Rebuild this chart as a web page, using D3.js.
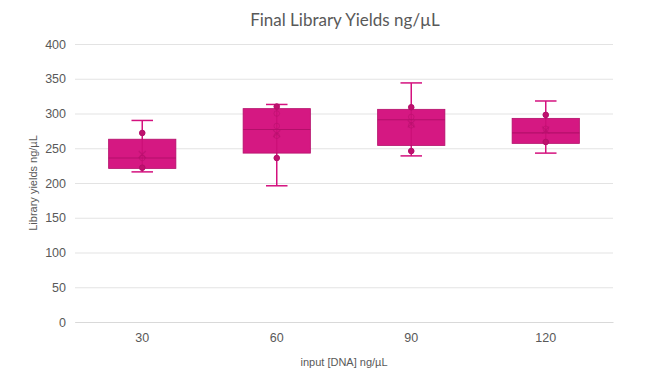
<!DOCTYPE html>
<html>
<head>
<meta charset="utf-8">
<script src="https://cdn.jsdelivr.net/npm/d3@7"></script>
<style>
  body { margin: 0; background: #fff; }
  text { font-family: "Liberation Sans", Arial, sans-serif; fill: #595959; }
</style>
</head>
<body>
<div class="chart"></div>
<script>
// data
var categories = ["30", "60", "90", "120"];
var whiskerLow = [216, 196, 239, 243];
var q1 = [221, 243, 254, 257];
var median = [236, 277, 291, 272];
var q3 = [263, 307, 306, 293];
var whiskerHigh = [290, 313, 344, 318];
var means = [241, 271, 285, 276];
var points = [
    [272, 236, 222],
    [310, 300, 282, 268, 236],
    [309, 295, 283, 246],
    [298, 278, 259]
];
var yTicks = [0, 50, 100, 150, 200, 250, 300, 350, 400];

var svgWidth = 650;
var svgHeight = 388;

var margin = { top: 44, right: 37, bottom: 66, left: 75 };
var width = svgWidth - margin.left - margin.right;
var height = svgHeight - margin.top - margin.bottom;

var svg = d3.select(".chart")
    .append("svg")
    .attr("width", svgWidth)
    .attr("height", svgHeight);

var chartGroup = svg.append("g")
    .attr("transform", `translate(${margin.left}, ${margin.top})`);

var x = d3.scaleBand()
    .domain(categories)
    .range([0, width]);

var y = d3.scaleLinear()
    .domain([0, 400])
    .range([height, 0]);

// gridlines
chartGroup.append("g")
    .call(d3.axisLeft(y).tickValues(yTicks).tickSize(-width).tickFormat(""))
    .call(g => g.select(".domain").remove())
    .selectAll("line")
    .attr("stroke", "#e3e3e3");

// y tick labels
var yAxis = chartGroup.append("g")
    .call(d3.axisLeft(y).tickValues(yTicks).tickSize(0).tickPadding(9));
yAxis.select(".domain").remove();
yAxis.selectAll("text")
    .style("font-family", "'Liberation Sans', Arial, sans-serif")
    .style("font-size", "12.5px")
    .attr("fill", "#595959");

// x axis
var xAxis = chartGroup.append("g")
    .attr("transform", `translate(0, ${height})`)
    .call(d3.axisBottom(x).tickSize(0).tickPadding(11));
xAxis.select(".domain").attr("stroke", "#d9d9d9");
xAxis.selectAll("text")
    .style("font-family", "'Liberation Sans', Arial, sans-serif")
    .style("font-size", "12.5px")
    .attr("fill", "#595959");

var fillColor = "#d4117e";
var darkColor = "#b30f6a";
var boxW = x.bandwidth() * 0.5;

var groups = chartGroup.selectAll(".box")
    .data(categories)
    .enter()
    .append("g")
    .attr("class", "box")
    .attr("transform", d => `translate(${x(d) + x.bandwidth() / 2}, 0)`);

// whisker line
groups.append("line")
    .attr("y1", (d, i) => y(whiskerLow[i]))
    .attr("y2", (d, i) => y(whiskerHigh[i]))
    .attr("stroke", fillColor)
    .attr("stroke-width", 1.5);

// whisker caps
[whiskerLow, whiskerHigh].forEach(function(arr) {
    groups.append("line")
        .attr("x1", -boxW * 0.16)
        .attr("x2", boxW * 0.16)
        .attr("y1", (d, i) => y(arr[i]))
        .attr("y2", (d, i) => y(arr[i]))
        .attr("stroke", fillColor)
        .attr("stroke-width", 1.5);
});

// box
groups.append("rect")
    .attr("x", -boxW / 2)
    .attr("width", boxW)
    .attr("y", (d, i) => y(q3[i]))
    .attr("height", (d, i) => y(q1[i]) - y(q3[i]))
    .attr("fill", fillColor)
    .attr("fill-opacity", 0.97)
    .attr("stroke", darkColor)
    .attr("stroke-width", 0.8);

// inner whisker line shows faintly through the box
groups.append("line")
    .attr("y1", (d, i) => y(q1[i]))
    .attr("y2", (d, i) => y(q3[i]))
    .attr("stroke", "#c01072")
    .attr("stroke-opacity", 0.5)
    .attr("stroke-width", 1);

// median
groups.append("line")
    .attr("x1", -boxW / 2)
    .attr("x2", boxW / 2)
    .attr("y1", (d, i) => y(median[i]))
    .attr("y2", (d, i) => y(median[i]))
    .attr("stroke", darkColor)
    .attr("stroke-width", 1.2);

// data points
groups.each(function(d, i) {
    var inside = v => v > q1[i] + 3 && v < q3[i] - 3;
    d3.select(this).selectAll(".pt")
        .data(points[i])
        .enter()
        .append("circle")
        .attr("class", "pt")
        .attr("cy", v => y(v))
        .attr("r", 2.8)
        .attr("fill", v => inside(v) ? "none" : "#bf106e")
        .attr("stroke", "#b30f6a")
        .attr("stroke-opacity", v => inside(v) ? 0.5 : 1)
        .attr("stroke-width", 1);
});

// mean marker
groups.append("path")
    .attr("d", (d, i) => {
        var cy = y(means[i]);
        var s = 3.5;
        return `M${-s},${cy - s}L${s},${cy + s}M${-s},${cy + s}L${s},${cy - s}`;
    })
    .attr("stroke", "#b30f6a")
    .attr("stroke-opacity", 0.55)
    .attr("stroke-width", 1.2);

// title
svg.append("text")
    .attr("x", 345)
    .attr("y", 26)
    .attr("text-anchor", "middle")
    .style("font-family", "Lato, 'Open Sans', sans-serif")
    .style("font-size", "17px")
    .text("Final Library Yields ng/µL");

// axis titles
svg.append("text")
    .attr("x", 344)
    .attr("y", 366)
    .attr("text-anchor", "middle")
    .style("font-size", "11px")
    .text("input [DNA] ng/µL");

svg.append("text")
    .attr("transform", "translate(37, 183) rotate(-90)")
    .attr("text-anchor", "middle")
    .style("font-size", "11px")
    .text("Library yields ng/µL");
</script>
</body>
</html>
